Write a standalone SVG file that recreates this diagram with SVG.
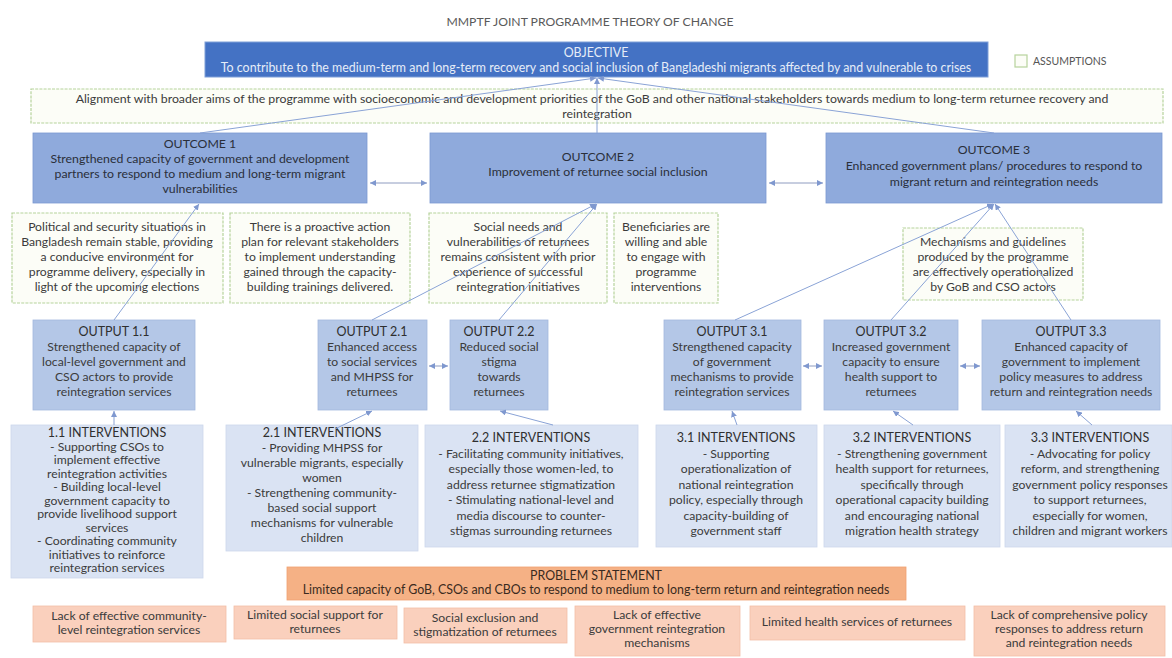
<svg xmlns="http://www.w3.org/2000/svg" width="1172" height="658" viewBox="0 0 1172 658">
<defs>
<style>
text{font-family:Lato,"Liberation Sans",sans-serif;text-anchor:middle;fill:#3b3b3b;font-size:12.2px}
.title{font-size:12.2px;fill:#5a5a5a}
.obj{fill:#4472c4;stroke:#7f9fd8;stroke-width:1}
.objt{fill:#e6edf8;font-size:12.4px}
.al{font-size:12.3px}
.asm{fill:#fcfdf7;stroke:#b6d39c;stroke-width:1.2;stroke-dasharray:3 1.2}
.oc{fill:#8faadc;stroke:#7b98d1;stroke-width:0.8}
.op{fill:#b4c7e7;stroke:#a3b8de;stroke-width:0.8}
.iv{fill:#dae3f3;stroke:#ccd7ec;stroke-width:0.8}
.ps{fill:#f5b185;stroke:#f0a070;stroke-width:0.8}
.ca{fill:#fad0bd;stroke:#f3bea7;stroke-width:0.8}
.h{font-size:12.5px;fill:#2f2f2f}
.dk{fill:#2a2f3a;font-size:12.3px}
.pt{fill:#3a2a20;font-size:12.4px}
.c{fill:none;stroke:#8aa3d6;stroke-width:1}
.d{fill:none;stroke:#8f9cc0;stroke-width:1}
</style>
<marker id="ah" viewBox="0 0 6 6" refX="6" refY="3" markerWidth="6" markerHeight="6" markerUnits="userSpaceOnUse" orient="auto-start-reverse">
<path d="M0,0 L6,3 L0,6 z" fill="#7f98cf"/>
</marker>
</defs>
<rect width="1172" height="658" fill="#ffffff"/>

<text class="title" x="590" y="26">MMPTF JOINT PROGRAMME THEORY OF CHANGE</text>

<g id="objective">
<rect class="obj" x="205" y="42" width="783" height="35"/>
<text class="objt" x="596" y="57">OBJECTIVE</text>
<text class="objt" x="596" y="72">To contribute to the medium-term and long-term recovery and social inclusion of Bangladeshi migrants affected by and vulnerable to crises</text>
</g>

<g id="legend">
<rect class="asm" x="1015" y="55" width="12" height="12" style="stroke-dasharray:none"/>
<text x="1033" y="65" style="text-anchor:start;font-size:10.5px;fill:#555">ASSUMPTIONS</text>
</g>

<g id="alignment">
<rect class="asm" x="31" y="89" width="1132" height="34"/>
<text class="al" x="592" y="103">Alignment with broader aims of the programme with socioeconomic and development priorities of the GoB and other national stakeholders towards medium to long-term returnee recovery and</text>
<text class="al" x="597" y="118">reintegration</text>
</g>

<g id="outcome1">
<rect class="oc" x="33" y="133" width="334" height="70"/>
<text class="h dk" x="200" y="148">OUTCOME 1</text>
<text class="dk" x="200" y="163">Strengthened capacity of government and development</text>
<text class="dk" x="200" y="178">partners to respond to medium and long-term migrant</text>
<text class="dk" x="200" y="193">vulnerabilities</text>
</g>
<g id="outcome2">
<rect class="oc" x="430" y="133" width="336" height="70"/>
<text class="h dk" x="598" y="161">OUTCOME 2</text>
<text class="dk" x="598" y="176">Improvement of returnee social inclusion</text>
</g>
<g id="outcome3">
<rect class="oc" x="826" y="133" width="336" height="70"/>
<text class="h dk" x="994" y="154">OUTCOME 3</text>
<text class="dk" x="994" y="170">Enhanced government plans/ procedures to respond to</text>
<text class="dk" x="994" y="186">migrant return and reintegration needs</text>
</g>

<g id="assumption1">
<rect class="asm" x="12" y="213" width="211" height="90"/>
<text x="117" y="231">Political and security situations in</text>
<text x="117" y="246">Bangladesh remain stable, providing</text>
<text x="117" y="261">a conducive environment for</text>
<text x="117" y="276">programme delivery, especially in</text>
<text x="117" y="291">light of the upcoming elections</text>
</g>
<g id="assumption2">
<rect class="asm" x="230" y="213" width="180" height="90"/>
<text x="320" y="231">There is a proactive action</text>
<text x="320" y="246">plan for relevant stakeholders</text>
<text x="320" y="261">to implement understanding</text>
<text x="320" y="276">gained through the capacity-</text>
<text x="320" y="291">building trainings delivered.</text>
</g>
<g id="assumption3">
<rect class="asm" x="429" y="213" width="178" height="90"/>
<text x="518" y="231">Social needs and</text>
<text x="518" y="246">vulnerabilities of returnees</text>
<text x="518" y="261">remains consistent with prior</text>
<text x="518" y="276">experience of successful</text>
<text x="518" y="291">reintegration initiatives</text>
</g>
<g id="assumption4">
<rect class="asm" x="614" y="213" width="104" height="90"/>
<text x="666" y="231">Beneficiaries are</text>
<text x="666" y="246">willing and able</text>
<text x="666" y="261">to engage with</text>
<text x="666" y="276">programme</text>
<text x="666" y="291">interventions</text>
</g>
<g id="assumption5">
<rect class="asm" x="903" y="228" width="180" height="72"/>
<text x="993" y="246">Mechanisms and guidelines</text>
<text x="993" y="261">produced by the programme</text>
<text x="993" y="276">are effectively operationalized</text>
<text x="993" y="291">by GoB and CSO actors</text>
</g>

<g id="output11">
<rect class="op" x="33" y="320" width="162" height="90"/>
<text class="h" x="114" y="336">OUTPUT 1.1</text>
<text x="114" y="351">Strengthened capacity of</text>
<text x="114" y="366">local-level government and</text>
<text x="114" y="381">CSO actors to provide</text>
<text x="114" y="396">reintegration services</text>
</g>
<g id="output21">
<rect class="op" x="318" y="320" width="109" height="90"/>
<text class="h" x="372" y="336">OUTPUT 2.1</text>
<text x="372" y="351">Enhanced access</text>
<text x="372" y="366">to social services</text>
<text x="372" y="381">and MHPSS for</text>
<text x="372" y="396">returnees</text>
</g>
<g id="output22">
<rect class="op" x="450" y="320" width="98" height="90"/>
<text class="h" x="499" y="336">OUTPUT 2.2</text>
<text x="499" y="351">Reduced social</text>
<text x="499" y="366">stigma</text>
<text x="499" y="381">towards</text>
<text x="499" y="396">returnees</text>
</g>
<g id="output31">
<rect class="op" x="664" y="320" width="137" height="90"/>
<text class="h" x="732" y="336">OUTPUT 3.1</text>
<text x="732" y="351">Strengthened capacity</text>
<text x="732" y="366">of government</text>
<text x="732" y="381">mechanisms to provide</text>
<text x="732" y="396">reintegration services</text>
</g>
<g id="output32">
<rect class="op" x="824" y="320" width="134" height="90"/>
<text class="h" x="891" y="336">OUTPUT 3.2</text>
<text x="891" y="351">Increased government</text>
<text x="891" y="366">capacity to ensure</text>
<text x="891" y="381">health support to</text>
<text x="891" y="396">returnees</text>
</g>
<g id="output33">
<rect class="op" x="982" y="320" width="178" height="90"/>
<text class="h" x="1071" y="336">OUTPUT 3.3</text>
<text x="1071" y="351">Enhanced capacity of</text>
<text x="1071" y="366">government to implement</text>
<text x="1071" y="381">policy measures to address</text>
<text x="1071" y="396">return and reintegration needs</text>
</g>

<g id="interventions11">
<rect class="iv" x="11" y="425" width="192" height="153"/>
<text class="h" x="107" y="437">1.1 INTERVENTIONS</text>
<text x="107" y="450.5">-   Supporting CSOs to</text>
<text x="107" y="464">implement effective</text>
<text x="107" y="477.5">reintegration activities</text>
<text x="107" y="491">-   Building local-level</text>
<text x="107" y="504.5">government capacity to</text>
<text x="107" y="518">provide livelihood support</text>
<text x="107" y="531.5">services</text>
<text x="107" y="545">-   Coordinating community</text>
<text x="107" y="558.5">initiatives to reinforce</text>
<text x="107" y="572">reintegration services</text>
</g>
<g id="interventions21">
<rect class="iv" x="226" y="425" width="192" height="126"/>
<text class="h" x="322" y="437">2.1 INTERVENTIONS</text>
<text x="322" y="452">- Providing MHPSS for</text>
<text x="322" y="467">vulnerable migrants, especially</text>
<text x="322" y="482">women</text>
<text x="322" y="497">- Strengthening community-</text>
<text x="322" y="512">based social support</text>
<text x="322" y="527">mechanisms for vulnerable</text>
<text x="322" y="542">children</text>
</g>
<g id="interventions22">
<rect class="iv" x="425" y="425" width="213" height="122"/>
<text class="h" x="531" y="442">2.2 INTERVENTIONS</text>
<text x="531" y="457.5">-   Facilitating community initiatives,</text>
<text x="531" y="473">especially those women-led, to</text>
<text x="531" y="488.5">address returnee stigmatization</text>
<text x="531" y="504">-   Stimulating national-level and</text>
<text x="531" y="519.5">media discourse to counter-</text>
<text x="531" y="535">stigmas surrounding returnees</text>
</g>
<g id="interventions31">
<rect class="iv" x="656" y="425" width="161" height="122"/>
<text class="h" x="736" y="442">3.1 INTERVENTIONS</text>
<text x="736" y="457.5">- Supporting</text>
<text x="736" y="473">operationalization of</text>
<text x="736" y="488.5">national reintegration</text>
<text x="736" y="504">policy, especially through</text>
<text x="736" y="519.5">capacity-building of</text>
<text x="736" y="535">government staff</text>
</g>
<g id="interventions32">
<rect class="iv" x="824" y="425" width="176" height="122"/>
<text class="h" x="912" y="442">3.2 INTERVENTIONS</text>
<text x="912" y="457.5">- Strengthening government</text>
<text x="912" y="473">health support for returnees,</text>
<text x="912" y="488.5">specifically through</text>
<text x="912" y="504">operational capacity building</text>
<text x="912" y="519.5">and encouraging national</text>
<text x="912" y="535">migration health strategy</text>
</g>
<g id="interventions33">
<rect class="iv" x="1005" y="425" width="167" height="122"/>
<text class="h" x="1090" y="442">3.3 INTERVENTIONS</text>
<text x="1090" y="457.5">- Advocating for policy</text>
<text x="1090" y="473">reform, and strengthening</text>
<text x="1090" y="488.5">government policy responses</text>
<text x="1090" y="504">to support returnees,</text>
<text x="1090" y="519.5">especially for women,</text>
<text x="1090" y="535">children and migrant workers</text>
</g>

<g id="problem">
<rect class="ps" x="287" y="567" width="619" height="33"/>
<text class="pt" x="596" y="580">PROBLEM STATEMENT</text>
<text class="pt" x="596" y="594">Limited capacity of GoB, CSOs and CBOs to respond to medium to long-term return and reintegration needs</text>
</g>
<g id="cause1">
<rect class="ca" x="33" y="606" width="193" height="36"/>
<text x="129" y="620">Lack of effective community-</text>
<text x="129" y="634">level reintegration services</text>
</g>
<g id="cause2">
<rect class="ca" x="234" y="606" width="163" height="33"/>
<text x="315" y="619">Limited social support for</text>
<text x="315" y="633">returnees</text>
</g>
<g id="cause3">
<rect class="ca" x="404" y="608" width="163" height="35"/>
<text x="485" y="622">Social exclusion and</text>
<text x="485" y="636">stigmatization of returnees</text>
</g>
<g id="cause4">
<rect class="ca" x="575" y="606" width="165" height="50"/>
<text x="657" y="619">Lack of effective</text>
<text x="657" y="633">government reintegration</text>
<text x="657" y="647">mechanisms</text>
</g>
<g id="cause5">
<rect class="ca" x="750" y="606" width="215" height="34"/>
<text x="857" y="626">Limited health services of returnees</text>
</g>
<g id="cause6">
<rect class="ca" x="974" y="606" width="191" height="50"/>
<text x="1069" y="619">Lack of comprehensive policy</text>
<text x="1069" y="633">responses to address return</text>
<text x="1069" y="647">and reintegration needs</text>
</g>

<g id="connectors">
<path class="c" d="M200,133 L596,78" marker-end="url(#ah)"/>
<path class="c" d="M597,133 L597,78" marker-end="url(#ah)"/>
<path class="c" d="M994,133 L598,78" marker-end="url(#ah)"/>
<path class="c" d="M114,320 L199,204" marker-end="url(#ah)"/>
<path class="c" d="M372,320 L596,204" marker-end="url(#ah)"/>
<path class="c" d="M499,320 L597,204" marker-end="url(#ah)"/>
<path class="c" d="M735,320 L993,204" marker-end="url(#ah)"/>
<path class="c" d="M891,320 L994,204" marker-end="url(#ah)"/>
<path class="c" d="M1071,320 L995,204" marker-end="url(#ah)"/>
<path class="c" d="M114,425 L114,411" marker-end="url(#ah)"/>
<path class="c" d="M335,429 L372,411" marker-end="url(#ah)"/>
<path class="c" d="M553,425 L500,411" marker-end="url(#ah)"/>
<path class="c" d="M737,425 L732,411" marker-end="url(#ah)"/>
<path class="c" d="M913,425 L893,411" marker-end="url(#ah)"/>
<path class="c" d="M1092,425 L1076,411" marker-end="url(#ah)"/>
<path class="d" d="M370,183 L427,183" marker-start="url(#ah)" marker-end="url(#ah)"/>
<path class="d" d="M769,183 L823,183" marker-start="url(#ah)" marker-end="url(#ah)"/>
<path class="d" d="M429,366 L448,366" marker-start="url(#ah)" marker-end="url(#ah)"/>
<path class="d" d="M803,366 L822,366" marker-start="url(#ah)" marker-end="url(#ah)"/>
<path class="d" d="M960,366 L980,366" marker-start="url(#ah)" marker-end="url(#ah)"/>
</g>
</svg>
